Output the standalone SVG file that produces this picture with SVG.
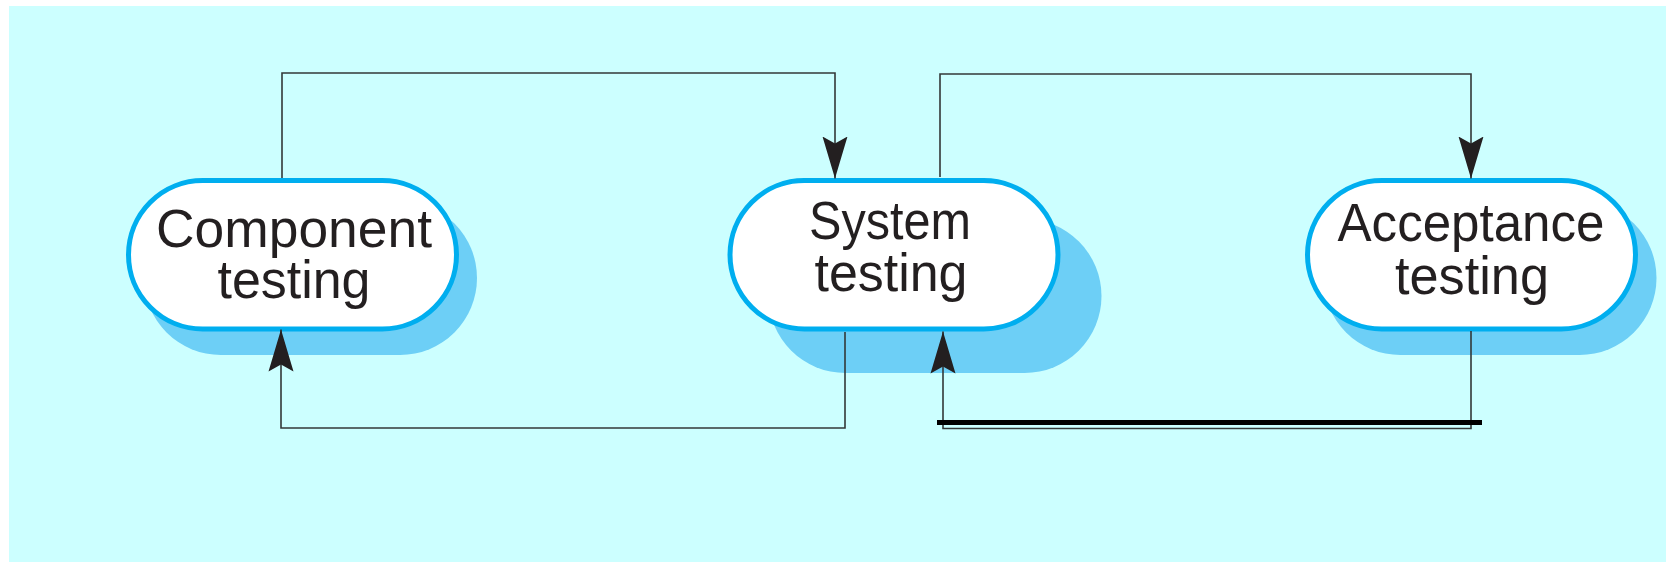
<svg xmlns="http://www.w3.org/2000/svg" width="1666" height="562" viewBox="0 0 1666 562">
<defs>
<style>
.bg{fill:#CCFFFF}
.shadow{fill:#6DCFF6}
.node{fill:#FFFFFF;stroke:#00AEEF;stroke-width:5}
.lbl{font-family:"Liberation Sans",Arial,sans-serif;font-size:54px;fill:#231F20;text-anchor:middle}
.conn{fill:none;stroke:#333838;stroke-width:1.6;marker-end:url(#arr)}
.bar{fill:none;stroke:#000000;stroke-width:5}
</style>
<marker id="arr" markerUnits="userSpaceOnUse" markerWidth="44" markerHeight="28" viewBox="0 -14 44 28" refX="42" refY="0" orient="auto">
<path d="M42,0 L0,-12.5 L7,0 L0,12.5 Z" fill="#231F20"/>
</marker>
</defs>
<rect class="bg" x="9" y="6" width="1657" height="556"/>
<g id="node-component">
<rect class="shadow" x="144" y="201" width="333" height="154" rx="77"/>
<rect class="node" x="128.5" y="180.5" width="328" height="148.5" rx="74.25"/>
<text class="lbl" x="294" y="246.5" textLength="276" lengthAdjust="spacingAndGlyphs">Component</text>
<text class="lbl" x="294" y="297.5" textLength="153" lengthAdjust="spacingAndGlyphs">testing</text>
</g>
<g id="node-system">
<rect class="shadow" x="768.5" y="219" width="333" height="154" rx="77"/>
<rect class="node" x="730" y="180.5" width="328" height="148.5" rx="74.25"/>
<text class="lbl" x="890" y="238.5" textLength="162" lengthAdjust="spacingAndGlyphs">System</text>
<text class="lbl" x="891" y="290.5" textLength="153" lengthAdjust="spacingAndGlyphs">testing</text>
</g>
<g id="node-acceptance">
<rect class="shadow" x="1323.5" y="201" width="333" height="154" rx="77"/>
<rect class="node" x="1307.5" y="180.5" width="328" height="148.5" rx="74.25"/>
<text class="lbl" x="1471" y="241" textLength="267" lengthAdjust="spacingAndGlyphs">Acceptance</text>
<text class="lbl" x="1472" y="294" textLength="154" lengthAdjust="spacingAndGlyphs">testing</text>
</g>
<g id="connectors">
<path class="conn" d="M282,178 V73 H835 V178.5"/>
<path class="conn" d="M940,177 V74 H1471 V178.5"/>
<path class="conn" d="M845,332 V428 H281 V329.5"/>
<path class="conn" d="M1471,331 V428.5 H943 V331.5"/>
<path class="bar" d="M937,422.5 H1482"/>
</g>
</svg>
